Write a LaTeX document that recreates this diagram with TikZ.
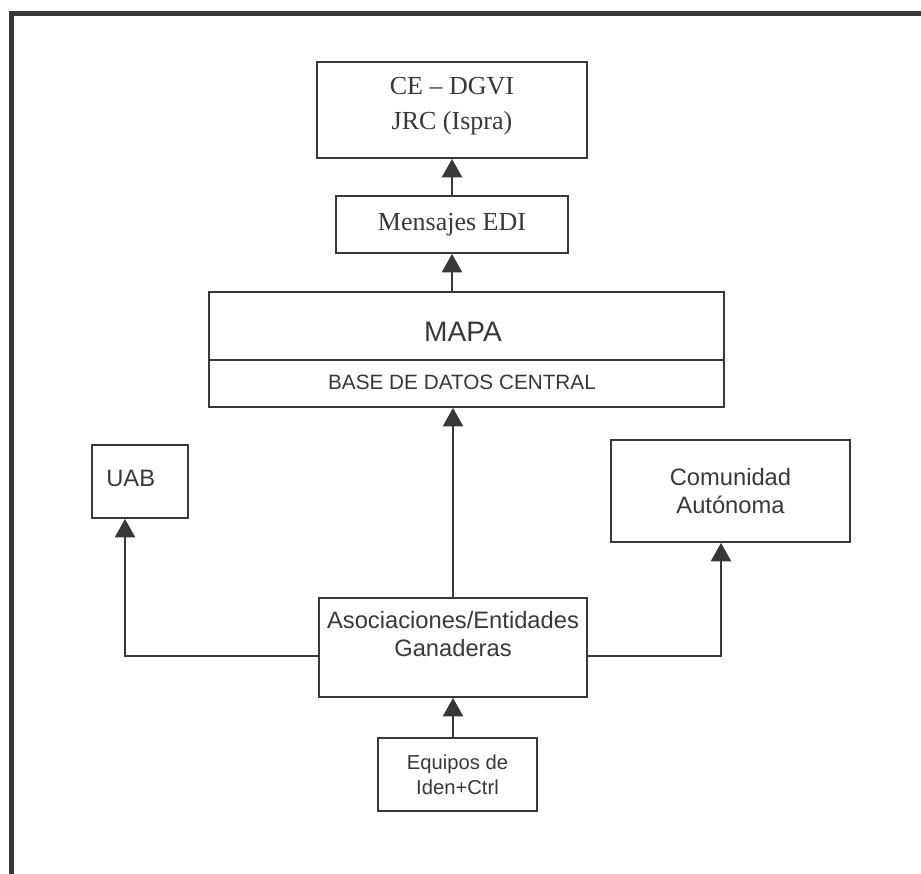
\documentclass[tikz,border=0pt]{standalone}
\usepackage{fontspec}
\setmainfont{Liberation Serif}
\setsansfont{Liberation Sans}
\usetikzlibrary{arrows.meta,positioning}
\definecolor{linegray}{RGB}{55,55,60}
\newcommand{\pxu}{0.02cm}
\tikzset{
  box/.style={draw=linegray, line width=1.1pt, inner sep=0pt, align=center},
  flow/.style={draw=linegray, line width=1.1pt, -{Triangle[width=11.5pt,length=10.5pt]}},
  txt/.style={inner sep=0pt, align=center, text=linegray}
}
\begin{document}
\begin{tikzpicture}[x=\pxu,y=-\pxu]
 \useasboundingbox (0,0) rectangle (921,874);
 % outer frame, open at right and bottom
 \draw[linegray,line width=3.4pt] (11.5,874) -- (11.5,13.5) -- (921,13.5);

 % boxes
 \node[box,minimum width=270*\pxu,minimum height=96*\pxu] (ce) at (452,110) {};
 \node[txt,font=\fontsize{14.8}{19.8}\selectfont] (cetext) at (452,106) {CE – DGVI\\JRC (Ispra)};
 \node[box,minimum width=232*\pxu,minimum height=57*\pxu,font=\fontsize{14.8}{18}\selectfont,text=linegray] (edi) at (452,224.5) {Mensajes EDI};
 \node[box,minimum width=515*\pxu,minimum height=115*\pxu] (mapa) at (466.5,349.5) {};
 \draw[linegray,line width=1.1pt] (mapa.west |- 0,360) -- (mapa.east |- 0,360); % divider
 \node[txt,font=\sffamily\fontsize{16}{19}\selectfont] (mapatext) at (463,332) {MAPA};
 \node[txt,font=\sffamily\fontsize{11.8}{14}\selectfont] (bdtext) at (462,382) {BASE DE DATOS CENTRAL};
 \node[box,minimum width=96*\pxu,minimum height=73*\pxu] (uab) at (140,481.5) {};
 \node[txt,anchor=west,font=\sffamily\fontsize{13.5}{16}\selectfont] (uabtext) at (106,478) {UAB};
 \node[box,minimum width=239*\pxu,minimum height=102*\pxu,font=\sffamily\fontsize{13.5}{15.9}\selectfont,text=linegray] (ccaa) at (730.5,491) {Comunidad\\Autónoma};
 \node[box,minimum width=268*\pxu,minimum height=99*\pxu] (asoc) at (453,647.5) {};
 \node[txt,font=\sffamily\fontsize{13.5}{15.9}\selectfont] (asoctext) at (453,634) {Asociaciones/Entidades\\Ganaderas};
 \node[box,minimum width=159*\pxu,minimum height=73*\pxu,font=\sffamily\fontsize{11.5}{14.2}\selectfont,text=linegray] (equipos) at (457.5,774.5) {Equipos de\\Iden+Ctrl};

 % connectors
 \coordinate (uabfoot) at (125,656);
 \coordinate (ccaafoot) at (721,656);
 \draw[flow] (edi) -- (ce);
 \draw[flow] (edi |- mapa.north) -- (edi.south);
 \draw[flow] (asoc.north) -- (asoc |- mapa.south);
 \draw[flow] (asoc.west |- uabfoot) -- (uabfoot) -- (uabfoot |- uab.south);
 \draw[flow] (asoc.east |- ccaafoot) -- (ccaafoot) -- (ccaafoot |- ccaa.south);
 \draw[flow] (asoc |- equipos.north) -- (asoc.south);
\end{tikzpicture}
\end{document}
